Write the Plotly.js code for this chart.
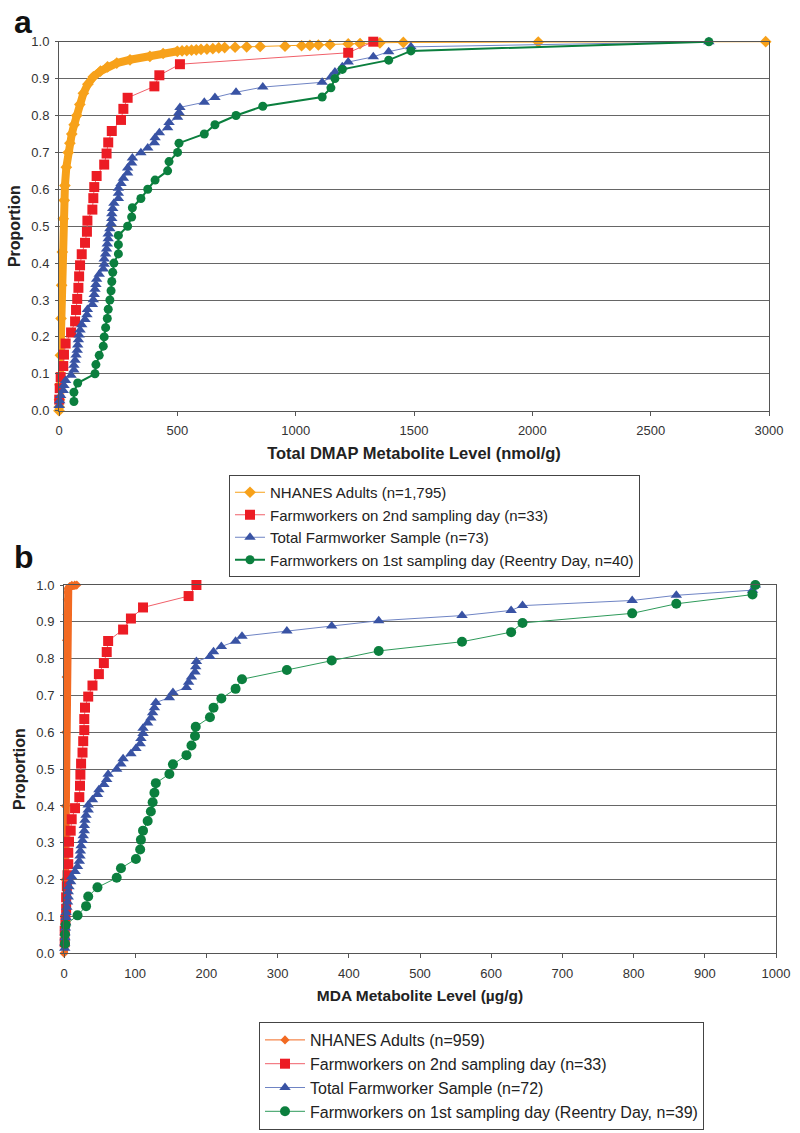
<!DOCTYPE html>
<html>
<head>
<meta charset="utf-8">
<script src="https://cdn.plot.ly/plotly-3.0.1.min.js"></script>
<style>html,body{margin:0;padding:0;background:#fff;}#chart{width:800px;height:1133px;}</style>
</head>
<body>
<div id="chart"></div>
<script>
// ---------- Panel a: Total DMAP (nmol/g) ----------
const nhanesA_x = [0, 1, 2, 4, 6, 8.5, 11, 14, 18, 22, 25, 31, 39, 46, 54, 64, 75, 88, 103, 122, 145, 175, 205, 244, 300, 384, 440, 500, 520, 540, 560, 580, 600, 625, 650, 675, 700, 744, 793, 850, 955, 1025, 1060, 1096, 1145, 1222, 1272, 1356, 1455, 2025, 2986];
const nhanesA_y = [0.0, 0.01, 0.03, 0.07, 0.15, 0.25, 0.34, 0.43, 0.52, 0.57, 0.61, 0.66, 0.70, 0.725, 0.75, 0.775, 0.80, 0.83, 0.86, 0.885, 0.905, 0.92, 0.932, 0.942, 0.951, 0.960, 0.968, 0.974, 0.975, 0.976, 0.977, 0.978, 0.979, 0.980, 0.981, 0.983, 0.984, 0.985, 0.986, 0.987, 0.988, 0.989, 0.990, 0.991, 0.992, 0.994, 0.995, 0.997, 0.998, 0.999, 1.0];

const day2A_x = [1, 3, 7, 18, 21, 28, 51, 68, 72, 77, 82, 85, 89, 96, 110, 118, 120, 141, 145, 149, 159, 191, 201, 208, 223, 262, 272, 290, 403, 424, 511, 1222, 1328];
const day2A_y = [0.030, 0.061, 0.091, 0.121, 0.152, 0.182, 0.212, 0.242, 0.273, 0.303, 0.333, 0.364, 0.394, 0.424, 0.455, 0.485, 0.515, 0.545, 0.576, 0.606, 0.636, 0.667, 0.697, 0.727, 0.758, 0.788, 0.818, 0.848, 0.879, 0.909, 0.939, 0.970, 1.000];

const totalA_x = [1, 3, 7, 18, 21, 28, 51, 63, 63, 68, 72, 77, 79, 82, 85, 89, 96, 110, 118, 120, 141, 145, 149, 152, 156, 159, 170, 187, 191, 191, 197, 201, 204, 208, 208, 215, 220, 223, 223, 227, 232, 251, 251, 251, 262, 272, 290, 290, 307, 310, 346, 375, 403, 406, 424, 459, 465, 501, 507, 511, 614, 659, 748, 861, 1112, 1149, 1166, 1197, 1222, 1328, 1393, 1487, 2746];
const totalA_y = [0.014, 0.027, 0.041, 0.055, 0.068, 0.082, 0.096, 0.110, 0.123, 0.137, 0.151, 0.164, 0.178, 0.192, 0.205, 0.219, 0.233, 0.247, 0.260, 0.274, 0.288, 0.301, 0.315, 0.329, 0.342, 0.356, 0.370, 0.384, 0.397, 0.411, 0.425, 0.438, 0.452, 0.466, 0.479, 0.493, 0.507, 0.521, 0.534, 0.548, 0.562, 0.575, 0.589, 0.603, 0.616, 0.630, 0.644, 0.658, 0.671, 0.685, 0.699, 0.712, 0.726, 0.740, 0.753, 0.767, 0.781, 0.795, 0.808, 0.822, 0.836, 0.849, 0.863, 0.877, 0.890, 0.904, 0.918, 0.932, 0.945, 0.959, 0.973, 0.986, 1.000];

const day1A_x = [63, 63, 79, 152, 156, 170, 187, 191, 197, 204, 208, 215, 220, 223, 227, 232, 251, 251, 251, 290, 307, 310, 346, 375, 406, 459, 465, 501, 507, 614, 659, 748, 861, 1112, 1149, 1166, 1197, 1393, 1487, 2746];
const day1A_y = [0.025, 0.050, 0.075, 0.100, 0.125, 0.150, 0.175, 0.200, 0.225, 0.250, 0.275, 0.300, 0.325, 0.350, 0.375, 0.400, 0.425, 0.450, 0.475, 0.500, 0.525, 0.550, 0.575, 0.600, 0.625, 0.650, 0.675, 0.700, 0.725, 0.750, 0.775, 0.800, 0.825, 0.850, 0.875, 0.900, 0.925, 0.950, 0.975, 1.000];

// ---------- Panel b: MDA (µg/g) ----------
const nhanesB_x = [0, 0.5, 1, 1.5, 2, 2.5, 3, 3.5, 4, 4.5, 5, 6, 8, 11, 15, 18];
const nhanesB_y = [0.0, 0.02, 0.08, 0.2, 0.4, 0.6, 0.75, 0.85, 0.92, 0.96, 0.98, 0.99, 0.996, 0.999, 1.0, 1.0];

const day2B_x = [1, 1, 2, 3, 3, 4, 5, 6, 6, 7, 9.4, 10.8, 15.5, 21.5, 22.5, 23, 24, 26, 27, 28.5, 28.5, 29.5, 34, 40, 49, 56, 60, 62, 83, 94, 111, 175, 186];
const day2B_y = [0.030, 0.061, 0.091, 0.121, 0.152, 0.182, 0.212, 0.242, 0.273, 0.303, 0.333, 0.364, 0.394, 0.424, 0.455, 0.485, 0.515, 0.545, 0.576, 0.606, 0.636, 0.667, 0.697, 0.727, 0.758, 0.788, 0.818, 0.848, 0.879, 0.909, 0.939, 0.970, 1.000];

const totalB_x = [1, 1, 1.4, 1.4, 2, 2.4, 3, 3, 4, 5, 6, 6, 7, 9.4, 10.8, 15.5, 19, 21.5, 22.5, 23, 24, 26, 27, 28.5, 28.5, 29.5, 31, 34, 34, 40, 47, 49, 56, 60, 62, 74, 80, 83, 94, 101, 107, 108, 111, 111, 117.5, 122, 124.5, 127, 129, 148, 153, 172, 175, 179, 184, 185, 186, 205, 210, 221, 241, 250, 313, 376, 442, 559, 628, 644, 798, 860, 967, 971];
const totalB_y = [0.014, 0.028, 0.042, 0.056, 0.069, 0.083, 0.097, 0.111, 0.125, 0.139, 0.153, 0.167, 0.181, 0.194, 0.208, 0.222, 0.236, 0.250, 0.264, 0.278, 0.292, 0.306, 0.319, 0.333, 0.347, 0.361, 0.375, 0.389, 0.403, 0.417, 0.431, 0.444, 0.458, 0.472, 0.486, 0.500, 0.514, 0.528, 0.542, 0.556, 0.569, 0.583, 0.597, 0.611, 0.625, 0.639, 0.653, 0.667, 0.681, 0.694, 0.708, 0.722, 0.736, 0.750, 0.764, 0.778, 0.792, 0.806, 0.819, 0.833, 0.847, 0.861, 0.875, 0.889, 0.903, 0.917, 0.931, 0.944, 0.958, 0.972, 0.986, 1.000];

const day1B_x = [1.4, 1.4, 2.4, 19, 31, 34, 47, 74, 80, 101, 107, 108, 111, 117.5, 122, 124.5, 127, 129, 148, 153, 172, 179, 184, 185, 205, 210, 221, 241, 250, 313, 376, 442, 559, 628, 644, 798, 860, 967, 971];
const day1B_y = [0.026, 0.051, 0.077, 0.103, 0.128, 0.154, 0.179, 0.205, 0.231, 0.256, 0.282, 0.308, 0.333, 0.359, 0.385, 0.410, 0.436, 0.462, 0.487, 0.513, 0.538, 0.564, 0.590, 0.615, 0.641, 0.667, 0.692, 0.718, 0.744, 0.769, 0.795, 0.821, 0.846, 0.872, 0.897, 0.923, 0.949, 0.974, 1.000];

const namesA = ["NHANES Adults (n=1,795)", "Farmworkers on 2nd sampling day (n=33)", "Total Farmworker Sample (n=73)", "Farmworkers on 1st sampling day (Reentry Day, n=40)"];
const namesB = ["NHANES Adults (n=959)", "Farmworkers on 2nd sampling day (n=33)", "Total Farmworker Sample (n=72)", "Farmworkers on 1st sampling day (Reentry Day, n=39)"];
const yTicks = [0, 0.1, 0.2, 0.3, 0.4, 0.5, 0.6, 0.7, 0.8, 0.9, 1.0];
const titleA = 'Total DMAP Metabolite Level (nmol/g)';
const titleB = 'MDA Metabolite Level (µg/g)';
const titleY = 'Proportion';

// ---------- styles ----------
const ORANGE_A = '#F7A11A', ORANGE_B = '#F26A22', RED = '#EC1C24', RED_L = '#F0606A', BLUE = '#3953A4', BLUE_L = '#6F84C4', GREEN = '#0B7F3E';
const FONT = 'Liberation Sans, Arial, sans-serif';

function bandPart(xs, ys, maxX) {
  const bx = [], by = [];
  xs.forEach((v, i) => { if (v <= maxX) { bx.push(v); by.push(ys[i]); } });
  return {x: bx, y: by};
}
const bandA = bandPart(nhanesA_x, nhanesA_y, 500);
const bandB = bandPart(nhanesB_x, nhanesB_y, 18);

const traces = [
  // panel a
  {x: bandA.x, y: bandA.y, xaxis: 'x', yaxis: 'y', mode: 'lines', line: {color: ORANGE_A, width: 8}, showlegend: false, hoverinfo: 'skip', cliponaxis: false},
  {x: nhanesA_x, y: nhanesA_y, xaxis: 'x', yaxis: 'y', name: namesA[0], mode: 'lines+markers', line: {color: ORANGE_A, width: 1}, marker: {symbol: 'diamond', size: 9, color: ORANGE_A}, legend: 'legend', cliponaxis: false},
  {x: day2A_x, y: day2A_y, xaxis: 'x', yaxis: 'y', name: namesA[1], mode: 'lines+markers', line: {color: RED_L, width: 1}, marker: {symbol: 'square', size: 10, color: RED}, legend: 'legend', cliponaxis: false},
  {x: totalA_x, y: totalA_y, xaxis: 'x', yaxis: 'y', name: namesA[2], mode: 'lines+markers', line: {color: BLUE_L, width: 1}, marker: {symbol: 'triangle-up', size: 10, color: BLUE}, legend: 'legend', cliponaxis: false},
  {x: day1A_x, y: day1A_y, xaxis: 'x', yaxis: 'y', name: namesA[3], mode: 'lines+markers', line: {color: GREEN, width: 2}, marker: {symbol: 'circle', size: 9, color: GREEN}, legend: 'legend', cliponaxis: false},
  // panel b
  {x: bandB.x, y: bandB.y, xaxis: 'x2', yaxis: 'y2', mode: 'lines', line: {color: ORANGE_B, width: 8}, showlegend: false, hoverinfo: 'skip', cliponaxis: false},
  {x: nhanesB_x, y: nhanesB_y, xaxis: 'x2', yaxis: 'y2', name: namesB[0], mode: 'lines+markers', line: {color: ORANGE_B, width: 1}, marker: {symbol: 'diamond', size: 7, color: ORANGE_B}, legend: 'legend2', cliponaxis: false},
  {x: day2B_x, y: day2B_y, xaxis: 'x2', yaxis: 'y2', name: namesB[1], mode: 'lines+markers', line: {color: RED_L, width: 1}, marker: {symbol: 'square', size: 10, color: RED}, legend: 'legend2', cliponaxis: false},
  {x: totalB_x, y: totalB_y, xaxis: 'x2', yaxis: 'y2', name: namesB[2], mode: 'lines+markers', line: {color: BLUE_L, width: 1}, marker: {symbol: 'triangle-up', size: 10, color: BLUE}, legend: 'legend2', cliponaxis: false},
  {x: day1B_x, y: day1B_y, xaxis: 'x2', yaxis: 'y2', name: namesB[3], mode: 'lines+markers', line: {color: '#2E9A5A', width: 1}, marker: {symbol: 'circle', size: 10, color: GREEN}, legend: 'legend2', cliponaxis: false}
];

const axisFont = {family: FONT, size: 13, color: '#333'};
function xAx(domain, range, dtick, title, tsize, anchor) {
  return {domain: domain, range: range, dtick: dtick, tick0: 0, anchor: anchor, showgrid: false, zeroline: false,
    showline: true, linecolor: '#555', linewidth: 1, mirror: true, ticks: 'outside', ticklen: 4, tickcolor: '#555',
    ticklabelstandoff: 4,
    tickfont: axisFont, title: {text: title, font: {family: FONT, size: tsize, color: '#222', weight: 'bold'}, standoff: 10}, fixedrange: true};
}
function yAx(domain, anchor) {
  return {domain: domain, range: [0, 1], tickvals: yTicks, tickformat: '.1f', anchor: anchor, showgrid: true, gridcolor: '#666', gridwidth: 1,
    zeroline: false, showline: true, linecolor: '#555', linewidth: 1, mirror: true, ticks: 'outside', ticklen: 3, tickcolor: '#555',
    ticklabelstandoff: 3,
    tickfont: axisFont, title: {text: titleY, font: {family: FONT, size: 16, color: '#222', weight: 'bold'}, standoff: 6}, fixedrange: true};
}

const H = 1133, W = 800;
const layout = {
  width: W, height: H, margin: {l: 0, r: 0, t: 0, b: 0}, paper_bgcolor: '#fff', plot_bgcolor: '#fff',
  font: {family: FONT, color: '#222'},
  xaxis: xAx([59 / W, 769 / W], [0, 3000], 500, titleA, 16.5, 'y'),
  yaxis: yAx([1 - 410.7 / H, 1 - 41.7 / H], 'x'),
  xaxis2: xAx([64 / W, 776 / W], [0, 1000], 100, titleB, 15.5, 'y2'),
  yaxis2: yAx([1 - 953.3 / H, 1 - 585 / H], 'x2'),
  legend: {x: 229 / W, y: 1 - 475 / H, xanchor: 'left', yanchor: 'top', bgcolor: '#fff', bordercolor: '#444', borderwidth: 1,
    font: {family: FONT, size: 15, color: '#222'}, itemwidth: 30, tracegroupgap: 0},
  legend2: {x: 259 / W, y: 1 - 1022 / H, xanchor: 'left', yanchor: 'top', bgcolor: '#fff', bordercolor: '#444', borderwidth: 1,
    font: {family: FONT, size: 16, color: '#222'}, itemwidth: 40, tracegroupgap: 0},
  annotations: [
    {text: 'a', xref: 'paper', yref: 'paper', x: 12 / W, y: 1 - 2 / H, xanchor: 'left', yanchor: 'top', showarrow: false, font: {family: FONT, size: 32, color: '#111', weight: 'bold'}},
    {text: 'b', xref: 'paper', yref: 'paper', x: 12 / W, y: 1 - 537 / H, xanchor: 'left', yanchor: 'top', showarrow: false, font: {family: FONT, size: 32, color: '#111', weight: 'bold'}}
  ]
};

Plotly.newPlot('chart', traces, layout, {staticPlot: true, displayModeBar: false});
</script>
</body>
</html>
